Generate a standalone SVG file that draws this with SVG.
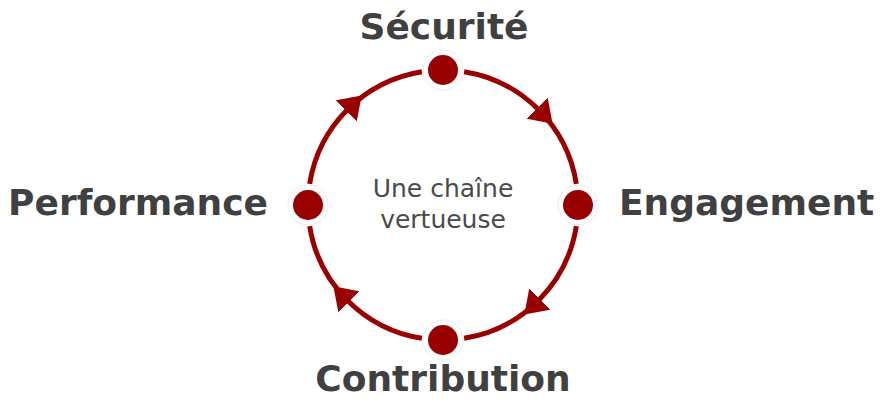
<svg xmlns="http://www.w3.org/2000/svg" width="885" height="403" viewBox="0 0 885 403">
  <style>
    .conn { fill: none; stroke: #990000; stroke-width: 5; marker-mid: url(#arrow); }
    .ring { fill: #ffffff; stroke: #ececec; stroke-width: 1; }
    .dot { fill: #990000; }
    .label { font-family: "DejaVu Sans", "Liberation Sans", sans-serif; font-weight: bold; font-size: 36px; fill: #404040; }
    .center { font-family: "DejaVu Sans", "Liberation Sans", sans-serif; font-size: 25px; fill: #4a4a4a; text-anchor: middle; }
  </style>
  <defs>
    <marker id="arrow" markerUnits="userSpaceOnUse" viewBox="0 0 22 30" markerWidth="22" markerHeight="30" refX="2" refY="15" orient="auto">
      <path d="M0,0 L22,15 L0,30 Z" fill="#990000"/>
    </marker>
  </defs>
  <rect width="885" height="403" fill="#ffffff"/>
  <g id="connectors">
    <path id="c1" class="conn" d="M464.12,71.66 A135,135 0 0 1 538.46,109.54 A135,135 0 0 1 576.34,183.88"/>
    <path id="c2" class="conn" d="M576.34,226.12 A135,135 0 0 1 538.46,300.46 A135,135 0 0 1 464.12,338.34"/>
    <path id="c3" class="conn" d="M421.88,338.34 A135,135 0 0 1 347.54,300.46 A135,135 0 0 1 309.66,226.12"/>
    <path id="c4" class="conn" d="M309.66,183.88 A135,135 0 0 1 347.54,109.54 A135,135 0 0 1 421.88,71.66"/>
  </g>
  <g id="node-securite">
    <circle class="ring" cx="443" cy="70" r="20"/>
    <circle class="dot" cx="443" cy="70" r="15"/>
    <text class="label" x="444" y="39" text-anchor="middle">Sécurité</text>
  </g>
  <g id="node-engagement">
    <circle class="ring" cx="578" cy="205" r="20"/>
    <circle class="dot" cx="578" cy="205" r="15"/>
    <text class="label" x="619" y="215">Engagement</text>
  </g>
  <g id="node-contribution">
    <circle class="ring" cx="443" cy="340" r="20"/>
    <circle class="dot" cx="443" cy="340" r="15"/>
    <text class="label" x="443" y="391" text-anchor="middle">Contribution</text>
  </g>
  <g id="node-performance">
    <circle class="ring" cx="308" cy="205" r="20"/>
    <circle class="dot" cx="308" cy="205" r="15"/>
    <text class="label" x="268" y="215" text-anchor="end">Performance</text>
  </g>
  <g id="center-label">
    <text class="center" x="443" y="197">Une chaîne</text>
    <text class="center" x="443" y="228">vertueuse</text>
  </g>
</svg>
